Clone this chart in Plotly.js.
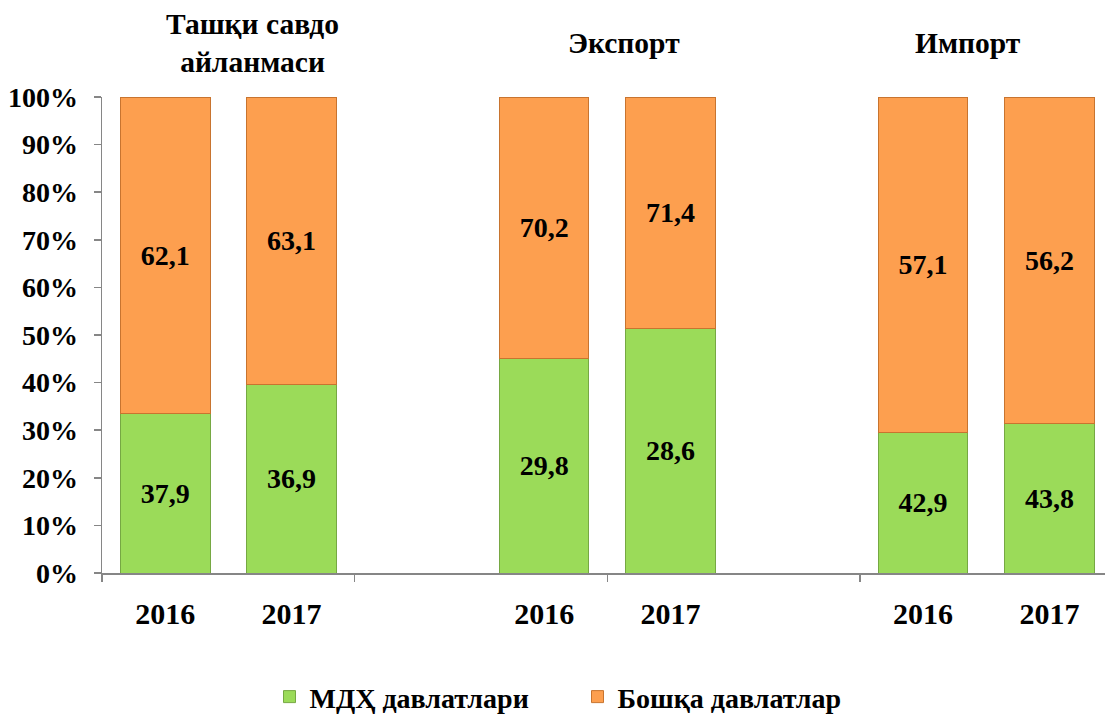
<!DOCTYPE html>
<html>
<head>
<meta charset="utf-8">
<script src="https://cdn.plot.ly/plotly-3.0.1.min.js"></script>
<style>html,body{margin:0;padding:0;background:#fff;}#chart{width:1105px;height:717px;}</style>
</head>
<body>
<div id="chart"></div>
<script>
// ---- data ----
const groups = ['Ташқи савдо<br>айланмаси', 'Экспорт', 'Импорт'];
const years = ['2016', '2017'];
// stacked bar heights as drawn in the picture (% of 100% column)
const cisHeight = [33.5, 39.6, 45.0, 51.3, 29.6, 31.5];
const otherHeight = [66.5, 60.4, 55.0, 48.7, 70.4, 68.5];
// printed data labels
const cisLabel = ['37,9', '36,9', '29,8', '28,6', '42,9', '43,8'];
const otherLabel = ['62,1', '63,1', '70,2', '71,4', '57,1', '56,2'];
const seriesNames = ['МДҲ давлатлари', 'Бошқа давлатлар'];
const yTicks = [0, 10, 20, 30, 40, 50, 60, 70, 80, 90, 100];
const yTickText = ['0%', '10%', '20%', '30%', '40%', '50%', '60%', '70%', '80%', '90%', '100%'];

// ---- derived positions (one empty slot between groups) ----
const slotsPerGroup = years.length + 1;
const barX = [];
const yearText = [];
groups.forEach((g, gi) => years.forEach((y, yi) => { barX.push(gi * slotsPerGroup + yi); yearText.push(y); }));
const boundaryTicks = [];
for (let v = -0.5; v <= groups.length * slotsPerGroup; v += 2) boundaryTicks.push(v);

const FONT = 'Liberation Serif';
const axisGray = '#868686';

const traces = [
  {
    type: 'bar', x: barX, y: cisHeight, name: seriesNames[0],
    text: cisLabel, textposition: 'inside', insidetextanchor: 'middle', textangle: 0,
    constraintext: 'none',
    textfont: {family: FONT, size: 28, weight: 'bold', color: '#000'},
    marker: {color: '#9BDB59', line: {color: '#76A843', width: 1}},
    width: 0.71, hoverinfo: 'skip'
  },
  {
    type: 'bar', x: barX, y: otherHeight, name: seriesNames[1],
    text: otherLabel, textposition: 'inside', insidetextanchor: 'middle', textangle: 0,
    constraintext: 'none',
    textfont: {family: FONT, size: 28, weight: 'bold', color: '#000'},
    marker: {color: '#FD9F4F', line: {color: '#C8742F', width: 1}},
    width: 0.71, hoverinfo: 'skip'
  },
  {
    type: 'scatter', mode: 'markers', x: barX, y: barX.map(() => 0), xaxis: 'x2', yaxis: 'y',
    marker: {opacity: 0, size: 1}, showlegend: false, hoverinfo: 'skip'
  }
];

const annotations = [
  {text: groups[0], x: 0.1505, y: 1.113},
  {text: groups[1], x: 0.52, y: 1.113},
  {text: groups[2], x: 0.8634, y: 1.113}
].map(a => Object.assign({
  xref: 'paper', yref: 'paper', showarrow: false, xanchor: 'center', yanchor: 'middle',
  font: {family: FONT, size: 29.5, weight: 'bold', color: '#000'}
}, a));

const layout = {
  width: 1105, height: 717,
  margin: {l: 102, r: 0, t: 97, b: 144, autoexpand: false},
  paper_bgcolor: '#fff', plot_bgcolor: '#fff',
  font: {family: FONT, color: '#000'},
  barmode: 'stack',
  showlegend: true,
  legend: {
    orientation: 'h', x: 0.167, xanchor: 'left', y: 0.028, yref: 'container', yanchor: 'middle',
    entrywidth: 263, entrywidthmode: 'pixels',
    font: {family: FONT, size: 28, weight: 'bold', color: '#000'},
    traceorder: 'normal'
  },
  xaxis: {
    type: 'linear', range: [-0.5, 7.44], tickvals: boundaryTicks,
    showticklabels: false, ticks: 'outside', ticklen: 7, tickcolor: axisGray, tickwidth: 1.5,
    showline: true, linecolor: axisGray, linewidth: 1.5, showgrid: false, zeroline: false,
    fixedrange: true, automargin: false
  },
  xaxis2: {
    type: 'linear', overlaying: 'x', anchor: 'y', side: 'bottom', range: [-0.5, 7.44],
    tickvals: barX, ticktext: yearText, ticks: '', showline: false, showgrid: false, zeroline: false,
    ticklabelstandoff: 20, automargin: false,
    tickfont: {family: FONT, size: 30, weight: 'bold', color: '#000'}
  },
  yaxis: {
    range: [0, 100], tickvals: yTicks, ticktext: yTickText,
    ticks: 'outside', ticklen: 7, tickcolor: axisGray, tickwidth: 1.5,
    showline: true, linecolor: axisGray, linewidth: 1.5, showgrid: false, zeroline: false,
    ticklabelstandoff: 10, automargin: false,
    tickfont: {family: FONT, size: 28, weight: 'bold', color: '#000'}
  },
  annotations: annotations
};

Plotly.newPlot('chart', traces, layout, {staticPlot: true, displayModeBar: false});
</script>
</body>
</html>
